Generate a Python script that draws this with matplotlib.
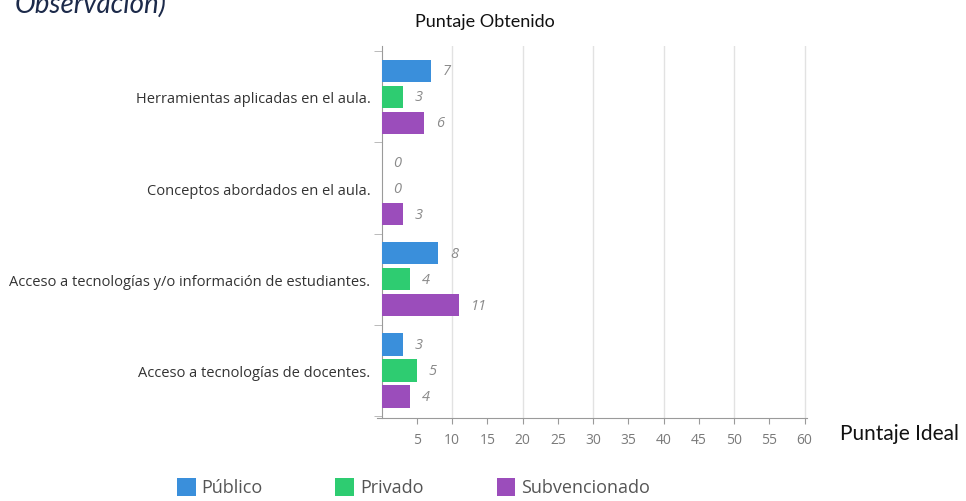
"""
Horizontal grouped bar chart: puntaje obtenido por tipo de establecimiento.
"""

import matplotlib
matplotlib.use("Agg")
import matplotlib.pyplot as plt
from matplotlib.patches import Rectangle
import numpy as np

categories = [
    "Herramientas aplicadas en el aula.",
    "Conceptos abordados en el aula.",
    "Acceso a tecnologías y/o información de estudiantes.",
    "Acceso a tecnologías de docentes.",
]
series_names = ["Público", "Privado", "Subvencionado"]
publico = [7, 0, 8, 3]
privado = [3, 0, 4, 5]
subvencionado = [6, 3, 11, 4]
x_ticks = [5, 10, 15, 20, 25, 30, 35, 40, 45, 50, 55, 60]

colors = ["#3a8fdb", "#2ecc71", "#9b4dbb"]
label_grey = "#8a8a8a"

fig = plt.figure(figsize=(9.66, 5.02), dpi=100)
ax = fig.add_axes([0.390, 0.1653, 0.4459, 0.7417])

y = np.arange(len(categories))
offsets = [-0.285, 0.0, 0.285]
bar_h = 0.245

for values, off, color in zip([publico, privado, subvencionado], offsets, colors):
    bars = ax.barh(y + off, values, height=bar_h, color=color, zorder=3)
    for bar, v in zip(bars, values):
        ax.annotate(
            f"{v}",
            xy=(v, bar.get_y() + bar.get_height() / 2),
            xytext=(8.5, 0),
            textcoords="offset points",
            ha="left",
            va="center",
            fontsize=10.5,
            style="italic",
            color=label_grey,
            family="Open Sans",
        )

ax.set_xlim(-0.7, 60.4)
ax.set_ylim(3.52, -0.56)

# axes look
for side in ["top", "right"]:
    ax.spines[side].set_visible(False)
ax.spines["left"].set_position(("data", 0))
ax.spines["left"].set_color("#9a9a9a")
ax.spines["bottom"].set_color("#9a9a9a")

ax.set_xticks(x_ticks)
ax.set_xticklabels([str(t) for t in x_ticks], family="Open Sans", fontsize=10, color="#7a7a7a")
ax.tick_params(axis="x", length=4, color="#9a9a9a", pad=6)

ax.set_yticks(y)
ax.set_yticklabels(categories, family="Open Sans", fontsize=10.5, color="#333333")
ax.tick_params(axis="y", length=0, pad=8)
ax.set_yticks(np.arange(-0.5, len(categories) + 0.5, 1), minor=True)
ax.tick_params(axis="y", which="minor", length=6, color="#b0b0b0")

ax.set_axisbelow(True)
for gx in [10, 20, 30, 40, 50, 60]:
    ax.axvline(gx, color="#e2e2e2", linewidth=1, zorder=0)

# titles
fig.text(0.502, 0.957, "Puntaje Obtenido", ha="center", va="center",
         fontsize=13, family="Lato", color="#111111")
fig.text(0.870, 0.1345, "Puntaje Ideal", ha="left", va="center",
         fontsize=15, family="Lato", color="#111111")
fig.text(0.0155, 0.975, "Observación)", ha="left", va="baseline",
         fontsize=20, family="Lato", style="italic", color="#1c2a4a")

# legend
legend_x = [0.183, 0.347, 0.514]
for name, color, lx in zip(series_names, colors, legend_x):
    fig.patches.append(Rectangle((lx, 0.009), 0.0195, 0.037, transform=fig.transFigure,
                                 facecolor=color, edgecolor="none"))
    fig.text(lx + 0.0255, 0.028, name, ha="left", va="center",
             fontsize=13, family="Open Sans", color="#555555")

fig.savefig("out.png", dpi=100)
